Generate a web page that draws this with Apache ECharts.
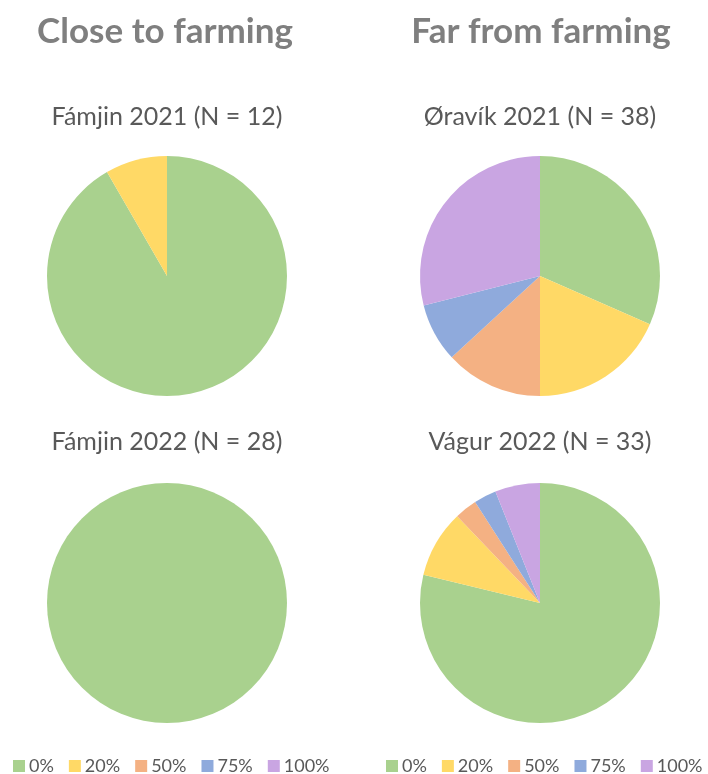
<!DOCTYPE html>
<html>
<head>
<meta charset="utf-8">
<script src="https://cdn.jsdelivr.net/npm/echarts@6/dist/echarts.min.js"></script>
<style>
  html, body { margin: 0; padding: 0; background: #fff; }
  #main { width: 708px; height: 774px; }
</style>
</head>
<body>
<div id="main"></div>
<script>
// categories and counts per site
var categories = ['0%', '20%', '50%', '75%', '100%'];
var colors = ['#A9D18E', '#FFD966', '#F4B183', '#8FAADC', '#C9A5E2'];

var famjin2021 = [11, 1, 0, 0, 0];
var oravik2021 = [12, 7, 5, 3, 11];
var famjin2022 = [28, 0, 0, 0, 0];
var vagur2022 = [26, 3, 1, 1, 2];

var panelTitles = ['Fámjin 2021 (N = 12)', 'Øravík 2021 (N = 38)', 'Fámjin 2022 (N = 28)', 'Vágur 2022 (N = 33)'];
var groupTitles = ['Close to farming', 'Far from farming'];

var font = 'Lato, "Open Sans", sans-serif';

function toData(arr) {
  return categories.map(function (c, i) { return { name: c, value: arr[i] }; });
}

function pie(arr, cx, cy) {
  return {
    type: 'pie',
    center: [cx, cy],
    radius: [0, 120],
    startAngle: 90,
    clockwise: true,
    label: { show: false },
    labelLine: { show: false },
    emphasis: { disabled: true },
    itemStyle: { borderWidth: 0 },
    data: toData(arr)
  };
}

function groupTitle(text, x) {
  return { text: text, left: x, top: 14, textAlign: 'center', padding: 0,
    textStyle: { fontFamily: font, fontSize: 35, fontWeight: 'bold', color: '#7F7F7F' } };
}
function panelTitle(text, x, y) {
  return { text: text, left: x, top: y, textAlign: 'center', padding: 0,
    textStyle: { fontFamily: font, fontSize: 25, fontWeight: 'normal', color: '#595959' } };
}
function legend(x) {
  return { data: categories, left: x, top: 752, width: 340, icon: 'rect', itemWidth: 12, itemHeight: 12, itemGap: 15,
    selectedMode: false, textStyle: { fontFamily: font, fontSize: 18, color: '#595959', padding: [0, 0, 0, -1] } };
}

var myChart = echarts.init(document.getElementById('main'));
var option = {
  backgroundColor: '#fff',
  color: colors,
  animation: false,
  title: [
    groupTitle(groupTitles[0], 165),
    groupTitle(groupTitles[1], 541),
    panelTitle(panelTitles[0], 167, 104),
    panelTitle(panelTitles[1], 540, 104),
    panelTitle(panelTitles[2], 167, 429),
    panelTitle(panelTitles[3], 540, 429)
  ],
  legend: [legend(8), legend(381)],
  series: [
    pie(famjin2021, 167, 276),
    pie(oravik2021, 540, 276),
    pie(famjin2022, 167, 603),
    pie(vagur2022, 540, 603)
  ]
};
myChart.setOption(option);
window.addEventListener('resize', function () { myChart.resize(); });
</script>
</body>
</html>
